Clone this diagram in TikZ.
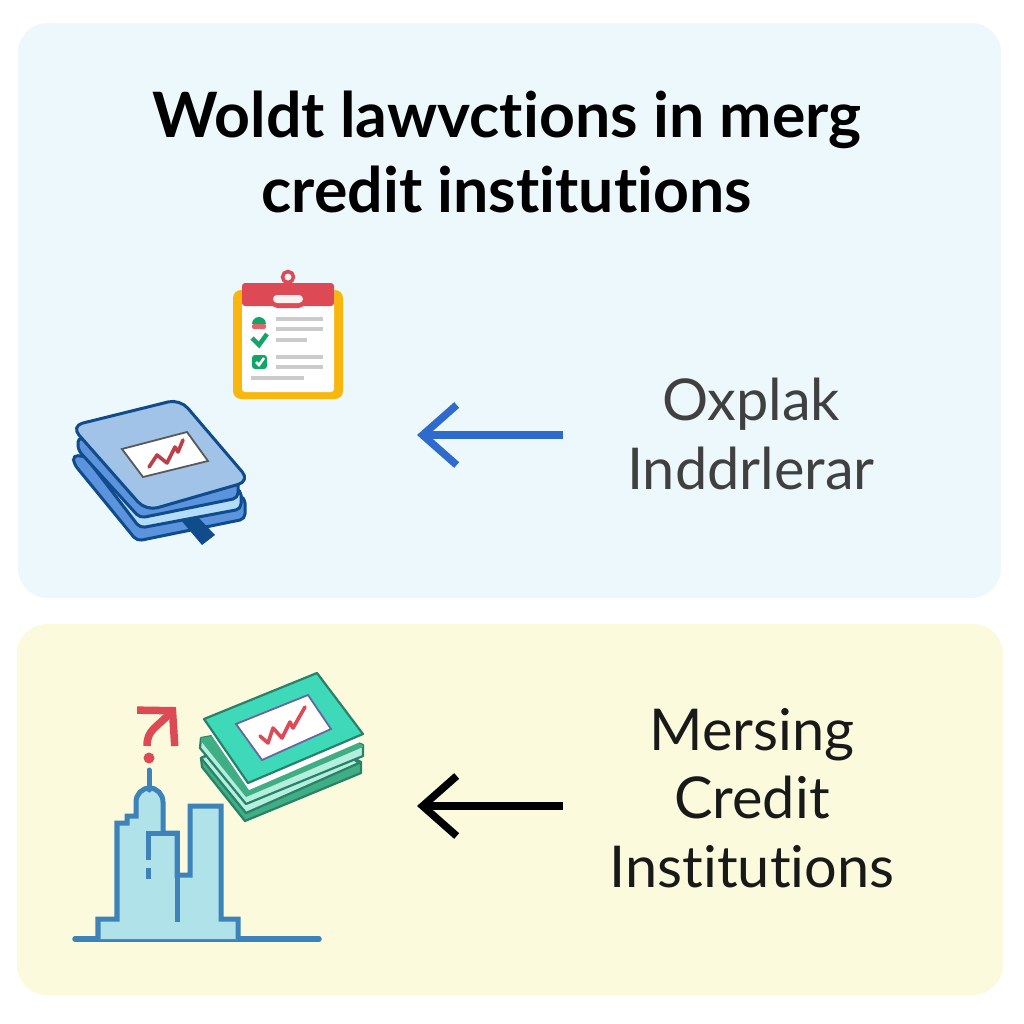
\documentclass[tikz,border=0pt]{standalone}
\usepackage{fontspec}
\setmainfont{Lato}[Ligatures=NoCommon]
\usepackage{xcolor}
\usetikzlibrary{arrows.meta, positioning}

\definecolor{panelblue}{HTML}{ECF8FC}
\definecolor{panelyellow}{HTML}{FBFADC}
\definecolor{coverblue}{HTML}{A2C3E8}
\definecolor{edgeblue}{HTML}{104C8C}
\definecolor{layerblue}{HTML}{5B93DC}
\definecolor{pageblue}{HTML}{B4DCF8}
\definecolor{towerline}{HTML}{3D82B8}
\definecolor{towerfill}{HTML}{B0E2EA}
\definecolor{billfill}{HTML}{3DD9B8}
\definecolor{billedge}{HTML}{2A8068}
\definecolor{billdark}{HTML}{3FAE84}
\definecolor{billpale}{HTML}{B4EEDC}
\definecolor{alertred}{HTML}{DD4A55}
\definecolor{clipyellow}{HTML}{F7B70F}
\definecolor{checkgreen}{HTML}{12A566}
\definecolor{rulegray}{HTML}{CBCBCB}
\definecolor{arrowblue}{HTML}{2F6BCC}

\begin{document}
\begin{tikzpicture}[
        x=0.01cm, y=-0.01cm,
        panel/.style={rounded corners=3mm, draw=none},
        heading/.style={align=center, inner sep=0pt, font=\fontsize{17.8}{21.4}\selectfont\bfseries},
        tag/.style={align=center, inner sep=0pt, font=\fontsize{16.4}{19.4}\selectfont},
        arrow/.style={-{Straight Barb[length=3.4mm, width=6mm, line width=0.75mm]}, line width=0.75mm},
        rule/.style={draw=rulegray, line width=0.33mm},
        bookedge/.style={draw=edgeblue, line width=0.3mm, line join=round, rounded corners=0.5mm},
        tower/.style={draw=towerline, line width=0.5mm, line join=miter},
        bill/.style={draw=billedge, line width=0.22mm, line join=round},
        spark/.style={draw=#1, line width=0.36mm, line join=round, line cap=round},
    ]
        % Panels
        \useasboundingbox (0,0) rectangle (1024,1024);
        \fill[white] (0,0) rectangle (1024,1024);
        \fill[panel, panelblue] (18,23) rectangle (1001,598);
        \fill[panel, panelyellow] (17,624) rectangle (1003,995);

        % Heading and labels
        \node[heading] (title) at (507,152) {Woldt lawvctions in merg\\credit institutions};
        \node[tag, text=black!75] (oxplak) at (751,434) {Oxplak\\Inddrlerar};
        \node[tag, text=black!90] (mersing) at (752,798) {Mersing\\Credit\\Institutions};

        % Arrows
        \coordinate (bluetail) at (563,435);
        \coordinate (bluehead) at (417,435);
        \coordinate (blacktail) at (563,806);
        \coordinate (blackhead) at (417,806);
        \draw[arrow, draw=arrowblue] (bluetail) -- (bluehead);
        \draw[arrow, draw=black] (blacktail) -- (blackhead);

        % Clipboard
        \fill[clipyellow, rounded corners=0.8mm] (233,290) rectangle (343,399);
        \fill[white, rounded corners=0.3mm] (242,283) rectangle (334,392);
        \draw[alertred, line width=0.35mm] (288,277) circle (5.5);
        \fill[alertred, rounded corners=0.3mm] (242,306) -- (242,283) -- (334,283) -- (334,306) -- cycle;
        \fill[alertred, rounded corners=0.5mm] (272,292) rectangle (304,308);
        \fill[white!92!alertred, rounded corners=0.4mm] (273,295) rectangle (303,303);
        \foreach \ya/\xa/\xb in {319/276/323, 329/276/323, 340/276/307, 357/276/323, 367/276/323, 378/251/304}
            \draw[rule] (\xa,\ya) -- (\xb,\ya);
        \fill[checkgreen] (252,324) arc (180:360:7) -- cycle;
        \fill[alertred!85, rounded corners=0.2mm] (252,324) rectangle (266,329);
        \draw[checkgreen, line width=0.45mm] (252,338) -- (259,345) -- (267,334);
        \fill[checkgreen, rounded corners=0.3mm] (252,355) rectangle (267,369);
        \draw[white, line width=0.25mm] (256,362) -- (259,365) -- (264,358);

        % Book
        \draw[bookedge, fill=layerblue] (73,455) -- (74,464) -- (137,541) -- (245,519) -- (245,498) -- (180,470) -- cycle;
        \fill[edgeblue] (180,519) -- (197,516) -- (215,535) -- (202,545) -- cycle;
        \draw[bookedge, fill=pageblue] (78,447) -- (140,528) -- (241,509) -- (241,490) -- (150,470) -- cycle;
        \draw[bookedge, fill=layerblue] (78,437) -- (78,450) -- (140,518) -- (238,498) -- (238,478) -- (150,470) -- cycle;
        \draw[bookedge, rounded corners=1.2mm, fill=coverblue] (71,426) -- (180,399) -- (250,481) -- (146,511) -- cycle;
        \draw[draw=black!65, fill=white, line width=0.18mm] (122,449) -- (187,432) -- (208,461) -- (143,477) -- cycle;
        \draw[spark=alertred!85!black] (149,467) -- (157,455) -- (167,463) -- (175,447) -- (178,452) -- (183,440);

        % Skyline
        \draw[towerline, line width=0.55mm, line cap=round] (75,939) -- (319,939);
        \draw[tower, fill=towerfill] (98,939) -- (98,919) -- (117,919) -- (117,823) -- (127,823) -- (127,816) -- (136,816) -- (136,802)
            arc (180:360:13.5 and 14) -- (163,833) -- (177,833) -- (177,875) -- (190,875) -- (190,806) -- (221,806) -- (221,919) -- (238,919) -- (238,939);
        \draw[tower, line cap=round] (149,770) -- (149,790);
        \draw[tower] (148,860) -- (148,833) -- (177,833) -- (177,922);
        \draw[tower] (148,868) -- (148,879);

        % Red mark
        \fill[alertred] (149,758) circle (5.5);
        \draw[alertred, line width=0.75mm, -{Straight Barb[length=2.4mm, width=5.2mm, line width=0.75mm]}] (147,746) .. controls (147,730) and (156,728) .. (176,707);

        % Bills
        \draw[bill, fill=billdark] (201,758) -- (202,767) -- (245,821) -- (361,773) -- (361,762) -- (280,720) -- cycle;
        \draw[bill, fill=billpale] (201,758) -- (246,813) -- (359,763) -- (300,720) -- cycle;
        \draw[bill, fill=billpale] (201,738) -- (200,748) -- (246,804) -- (363,756) -- (363,745) -- (300,720) -- cycle;
        \draw[draw=none, fill=billdark] (201,738) -- (201,741) -- (246,797) -- (363,747) -- (363,745) -- (300,720) -- cycle;
        \fill[white] (204,724) -- (249,790) -- (360,742) -- (355,730) -- cycle;
        \draw[bill, fill=billfill] (204,719) -- (317,673) -- (363,734) -- (248,783) -- cycle;
        \draw[draw=black!60!blue!60, fill=white, line width=0.18mm] (236,724) -- (308,695) -- (331,729) -- (262,760) -- cycle;
        \draw[spark=alertred] (260,736) -- (268,743) -- (273,728) -- (282,738) -- (290,722) -- (293,728) -- (305,707);
    \end{tikzpicture}
\end{document}
